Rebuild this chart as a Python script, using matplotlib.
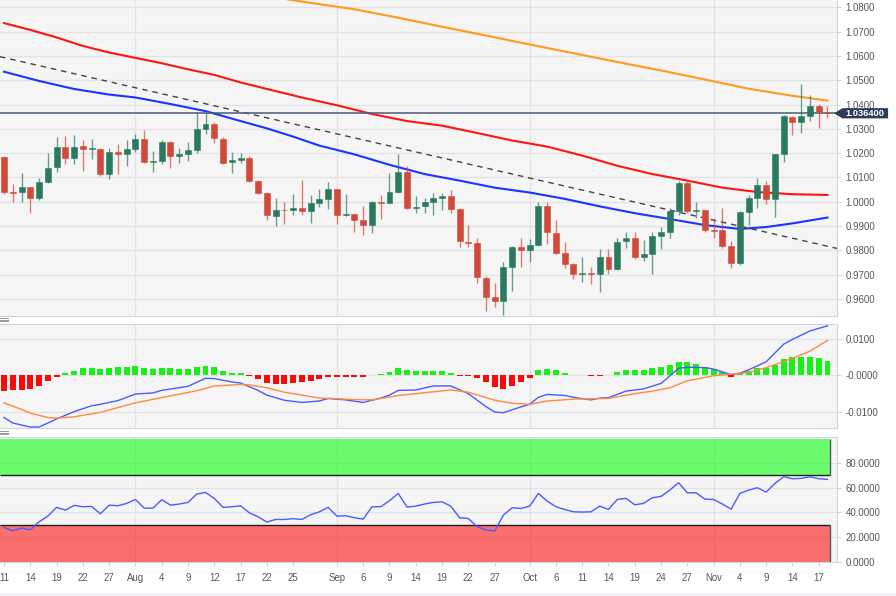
import numpy as np
import pandas as pd
import matplotlib
matplotlib.use("Agg")
import matplotlib.pyplot as plt
import matplotlib.transforms as mtransforms
from matplotlib.patches import Polygon
from matplotlib.lines import Line2D
from matplotlib.ticker import FormatStrFormatter

plt.rcParams['font.family'] = ['Liberation Sans', 'DejaVu Sans']
plt.rcParams['axes.unicode_minus'] = False

# EUR/USD daily candles, Jul 11 - Nov 18 2022
dates = pd.bdate_range('2022-07-11', '2022-11-18')

opens = [1.0186, 1.0039, 1.0039, 1.0062, 1.0017, 1.0080, 1.0142, 1.0224, 1.0179, 1.0228,
         1.0216, 1.0218, 1.0113, 1.0206, 1.0198, 1.0217, 1.0260, 1.0164, 1.0168, 1.0245,
         1.0188, 1.0198, 1.0213, 1.0299, 1.0318, 1.0260, 1.0162, 1.0172, 1.0179, 1.0087,
         1.0035, 0.9943, 0.9968, 0.9967, 0.9973, 0.9963, 0.9996, 1.0013, 1.0051, 0.9946,
         0.9951, 0.9925, 0.9903, 1.0000, 0.9996, 1.0042, 1.0122, 0.9973, 0.9982, 0.9999,
         1.0017, 1.0024, 0.9970, 0.9836, 0.9829, 0.9688, 0.9607, 0.9592, 0.9733, 0.9813,
         0.9802, 0.9822, 0.9984, 0.9873, 0.9788, 0.9743, 0.9702, 0.9707, 0.9702, 0.9771,
         0.9723, 0.9840, 0.9852, 0.9774, 0.9784, 0.9861, 0.9874, 0.9962, 1.0079, 0.9962,
         0.9965, 0.9885, 0.9884, 0.9817, 0.9747, 0.9959, 1.0017, 1.0069, 1.0010, 1.0197,
         1.0350, 1.0330, 1.0353, 1.0395, 1.0368]
highs = [1.0188, 1.0072, 1.0120, 1.0062, 1.0096, 1.0202, 1.0268, 1.0272, 1.0275, 1.0254,
         1.0258, 1.0220, 1.0220, 1.0236, 1.0254, 1.0277, 1.0295, 1.0209, 1.0254, 1.0250,
         1.0220, 1.0247, 1.0368, 1.0368, 1.0327, 1.0268, 1.0203, 1.0202, 1.0190, 1.0090,
         1.0042, 1.0017, 0.9998, 1.0032, 1.0090, 1.0028, 1.0054, 1.0080, 1.0051, 1.0032,
         0.9951, 0.9983, 1.0004, 1.0028, 1.0117, 1.0196, 1.0147, 1.0024, 1.0014, 1.0035,
         1.0035, 1.0049, 0.9973, 0.9904, 0.9850, 0.9695, 0.9667, 0.9751, 0.9818, 0.9852,
         0.9845, 0.9998, 0.9998, 0.9925, 0.9836, 0.9747, 0.9771, 0.9733, 0.9806, 0.9806,
         0.9850, 0.9877, 0.9877, 0.9843, 0.9877, 0.9898, 0.9976, 1.0087, 1.0094, 0.9998,
         0.9965, 0.9932, 0.9976, 0.9839, 0.9963, 1.0028, 1.0096, 1.0087, 1.0197, 1.0357,
         1.0354, 1.0484, 1.0439, 1.0401, 1.0395]
lows = [1.0030, 0.9998, 0.9998, 0.9953, 1.0007, 1.0076, 1.0121, 1.0154, 1.0154, 1.0127,
        1.0176, 1.0107, 1.0094, 1.0113, 1.0147, 1.0206, 1.0161, 1.0121, 1.0155, 1.0140,
        1.0158, 1.0169, 1.0202, 1.0277, 1.0240, 1.0154, 1.0120, 1.0158, 1.0080, 1.0031,
        0.9924, 0.9899, 0.9909, 0.9946, 0.9946, 0.9914, 0.9980, 0.9969, 0.9909, 0.9943,
        0.9877, 0.9863, 0.9873, 0.9928, 0.9994, 1.0035, 0.9969, 0.9955, 0.9955, 0.9946,
        0.9966, 0.9955, 0.9813, 0.9815, 0.9664, 0.9552, 0.9568, 0.9534, 0.9634, 0.9733,
        0.9753, 0.9818, 0.9826, 0.9785, 0.9726, 0.9682, 0.9669, 0.9663, 0.9630, 0.9704,
        0.9719, 0.9809, 0.9764, 0.9757, 0.9703, 0.9806, 0.9849, 0.9946, 0.9952, 0.9932,
        0.9874, 0.9852, 0.9808, 0.9729, 0.9740, 0.9904, 0.9976, 0.9991, 0.9939, 1.0162,
        1.0275, 1.0281, 1.0332, 1.0305, 1.0343]
closes = [1.0039, 1.0036, 1.0062, 1.0017, 1.0080, 1.0140, 1.0224, 1.0179, 1.0227, 1.0216,
          1.0221, 1.0113, 1.0206, 1.0198, 1.0217, 1.0260, 1.0165, 1.0168, 1.0245, 1.0188,
          1.0195, 1.0212, 1.0298, 1.0318, 1.0261, 1.0161, 1.0170, 1.0181, 1.0086, 1.0038,
          0.9944, 0.9968, 0.9965, 0.9973, 0.9963, 0.9996, 1.0013, 1.0051, 0.9946, 0.9951,
          0.9926, 0.9903, 1.0000, 0.9996, 1.0042, 1.0122, 0.9973, 0.9980, 0.9999, 1.0014,
          1.0024, 0.9970, 0.9839, 0.9829, 0.9692, 0.9610, 0.9593, 0.9733, 0.9813, 0.9802,
          0.9822, 0.9984, 0.9874, 0.9791, 0.9744, 0.9702, 0.9707, 0.9703, 0.9771, 0.9723,
          0.9836, 0.9852, 0.9771, 0.9784, 0.9861, 0.9874, 0.9962, 1.0079, 0.9962, 0.9965,
          0.9884, 0.9881, 0.9817, 0.9747, 0.9959, 1.0017, 1.0069, 1.0010, 1.0197, 1.0354,
          1.0330, 1.0353, 1.0395, 1.0368, 1.0364]
last_price = 1.0364

# moving averages, read at selected candles (index into dates)
sma50_idx = [0, 4, 8, 12, 15, 19, 23, 27, 30, 33, 36, 40, 44, 48, 52, 56, 60, 64, 68,
             72, 76, 80, 84, 87, 90, 94]
sma50 = [1.0535, 1.0497, 1.0464, 1.0441, 1.0429, 1.0402, 1.0373, 1.0332, 1.0302, 1.0268,
         1.0231, 1.0195, 1.0152, 1.0114, 1.0087, 1.0058, 1.0038, 1.0012, 0.9981,
         0.9953, 0.9929, 0.9904, 0.9888, 0.9896, 0.9911, 0.9935]
sma100_idx = [0, 3, 6, 9, 12, 15, 18, 21, 24, 27, 30, 34, 38, 42, 46, 50, 54, 58, 62,
              66, 70, 74, 78, 82, 86, 90, 94]
sma100 = [1.0735, 1.0707, 1.0676, 1.0641, 1.0614, 1.0592, 1.0570, 1.0545, 1.0522, 1.0491,
          1.0464, 1.0429, 1.0397, 1.0361, 1.0332, 1.0313, 1.0283, 1.0252, 1.0227,
          1.0190, 1.0148, 1.0114, 1.0087, 1.0058, 1.0040, 1.0031, 1.0028]
sma200_idx = [30, 35, 40, 45, 50, 55, 60, 65, 70, 75, 80, 85, 90, 94]
sma200 = [1.0846, 1.0818, 1.0792, 1.0757, 1.0720, 1.0684, 1.0647, 1.0611, 1.0575, 1.0540,
          1.0503, 1.0465, 1.0436, 1.0416]
trend_idx = [0, 94]
trend_val = [1.0593, 0.9817]

# MACD (line / signal read at selected candles, histogram per candle)
macd_idx = [0, 1, 3, 4, 5, 6, 8, 10, 11, 13, 15, 17, 18, 21, 23, 24, 26, 27, 29, 30,
            32, 34, 36, 37, 39, 41, 43, 44, 45, 47, 49, 51, 53, 55, 56, 57, 59, 60, 61, 62,
            64, 65, 67, 68, 69, 71, 73, 75, 77, 78, 80, 81, 83, 84, 85, 87, 89, 90, 92, 94]
macd_line = [-0.0115, -0.0130, -0.0141, -0.0141, -0.0130, -0.0119, -0.0099, -0.0083, -0.0079, -0.0069,
             -0.0051, -0.0048, -0.0041, -0.0030, -0.0008, -0.0009, -0.0018, -0.0021, -0.0041, -0.0054,
             -0.0068, -0.0074, -0.0070, -0.0063, -0.0067, -0.0074, -0.0062, -0.0054, -0.0041, -0.0040,
             -0.0029, -0.0029, -0.0050, -0.0085, -0.0100, -0.0102, -0.0086, -0.0079, -0.0060, -0.0052,
             -0.0055, -0.0060, -0.0067, -0.0062, -0.0061, -0.0043, -0.0037, -0.0022, 0.0019, 0.0022,
             0.0021, 0.0017, 0.0002, 0.0006, 0.0015, 0.0037, 0.0085, 0.0098, 0.0121, 0.0135]
signal_idx = [0, 2, 3, 5, 6, 8, 11, 15, 19, 22, 24, 27, 28, 30, 32, 36, 40, 42, 45, 49,
              51, 53, 56, 58, 60, 62, 65, 69, 72, 74, 76, 78, 81, 83, 85, 87, 90, 92, 94]
signal_line = [-0.0075, -0.0093, -0.0103, -0.0115, -0.0117, -0.0113, -0.0101, -0.0075, -0.0056, -0.0042,
               -0.0029, -0.0025, -0.0026, -0.0034, -0.0046, -0.0062, -0.0066, -0.0067, -0.0055, -0.0045,
               -0.0040, -0.0046, -0.0068, -0.0076, -0.0079, -0.0070, -0.0065, -0.0063, -0.0050, -0.0043,
               -0.0034, -0.0015, -0.0001, 0.0003, 0.0008, 0.0021, 0.0046, 0.0066, 0.0095]
macd_hist = [-0.0043, -0.0041, -0.0039, -0.0037, -0.0028, -0.0015, -0.0004, 0.0005, 0.0013, 0.0021,
             0.0019, 0.0016, 0.0021, 0.0022, 0.0024, 0.0025, 0.0021, 0.0016, 0.0019, 0.0019,
             0.0016, 0.0017, 0.0023, 0.0025, 0.0022, 0.0013, 0.0007, 0.0005, -0.0003, -0.0010,
             -0.0020, -0.0024, -0.0023, -0.0022, -0.0017, -0.0015, -0.0009, -0.0004, -0.0005, -0.0005,
             -0.0005, -0.0005, 0.0000, 0.0003, 0.0008, 0.0019, 0.0014, 0.0012, 0.0012, 0.0012,
             0.0012, 0.0007, -0.0002, -0.0001, -0.0007, -0.0019, -0.0031, -0.0036, -0.0029, -0.0017,
             -0.0008, 0.0014, 0.0017, 0.0014, 0.0007, 0.0002, 0.0002, -0.0002, -0.0001, 0.0001,
             0.0008, 0.0014, 0.0014, 0.0014, 0.0019, 0.0022, 0.0027, 0.0037, 0.0035, 0.0031,
             0.0024, 0.0017, 0.0008, -0.0005, 0.0005, 0.0012, 0.0019, 0.0019, 0.0028, 0.0044,
             0.0049, 0.0051, 0.0051, 0.0046, 0.0040]

# RSI per candle
rsi = [27.8, 25.1, 27.3, 25.9, 32.4, 37.0, 44.1, 41.9, 45.7, 44.6,
       44.9, 38.9, 45.9, 45.4, 47.3, 50.5, 43.5, 43.5, 50.3, 45.9,
       46.8, 48.1, 54.9, 56.2, 51.4, 44.1, 44.6, 45.4, 39.7, 36.5,
       32.2, 34.3, 34.3, 34.9, 34.3, 38.1, 40.5, 44.1, 37.0, 37.3,
       35.7, 34.6, 44.6, 44.6, 49.5, 55.4, 44.3, 45.1, 46.8, 48.1,
       48.6, 45.1, 35.7, 35.1, 28.4, 25.7, 24.9, 37.8, 43.8, 43.2,
       45.1, 55.4, 49.2, 44.6, 42.4, 40.5, 40.3, 40.5, 45.1, 42.4,
       50.5, 51.4, 46.2, 47.3, 51.9, 53.0, 58.1, 64.1, 55.9, 55.9,
       50.8, 50.5, 46.8, 42.7, 55.4, 58.1, 60.0, 56.5, 63.5, 68.9,
       67.3, 67.6, 68.9, 67.3, 66.8]

tick_dates = ['2022-07-11', '2022-07-14', '2022-07-19', '2022-07-22', '2022-07-27',
              '2022-08-01', '2022-08-04', '2022-08-09', '2022-08-12', '2022-08-17',
              '2022-08-22', '2022-08-25', '2022-09-01', '2022-09-06', '2022-09-09',
              '2022-09-14', '2022-09-19', '2022-09-22', '2022-09-27', '2022-10-03',
              '2022-10-06', '2022-10-11', '2022-10-14', '2022-10-19', '2022-10-24',
              '2022-10-27', '2022-11-01', '2022-11-04', '2022-11-09', '2022-11-14',
              '2022-11-17']
tick_labels = ['11', '14', '19', '22', '27', 'Aug', '4', '9', '12', '17', '22', '25',
               'Sep', '6', '9', '14', '19', '22', '27', 'Oct', '6', '11', '14', '19',
               '24', '27', 'Nov', '4', '9', '14', '17']
month_starts = ['2022-08-01', '2022-09-01', '2022-10-03', '2022-11-01']

GREEN = '#2b7a60'
RED = '#cf4a3b'
BG = '#f5f5f5'
GRID = '#e3e3e3'
SPINE = '#cfd4dd'
TXT = '#555555'

x = np.arange(len(dates))
o = np.array(opens); h = np.array(highs); l = np.array(lows); c = np.array(closes)
tick_pos = dates.get_indexer(pd.to_datetime(tick_dates))
month_pos = dates.get_indexer(pd.to_datetime(month_starts))
xlim = (-0.46, 95.09)

fig = plt.figure(figsize=(8.96, 5.96), dpi=100)
ax1 = fig.add_axes([0, 0.4698, 0.9342, 0.5302])
ax2 = fig.add_axes([0, 0.2819, 0.9342, 0.1737])
ax3 = fig.add_axes([0, 0.0570, 0.9342, 0.2097])

for ax in (ax1, ax2, ax3):
    ax.set_facecolor(BG)
    ax.set_xlim(*xlim)
    ax.yaxis.tick_right()
    ax.tick_params(axis='y', length=3, pad=3, labelsize=6.9, colors=SPINE, labelcolor=TXT)
    ax.tick_params(axis='x', bottom=False, labelbottom=False)
    ax.grid(axis='y', color=GRID, lw=1)
    ax.set_axisbelow(True)
    for m in month_pos:
        ax.axvline(m, color=GRID, lw=1, zorder=0)
    ax.spines['left'].set_visible(False)
    for s in ('top', 'right', 'bottom'):
        ax.spines[s].set_color(SPINE)
ax1.spines['top'].set_visible(False)

# ---- price panel
ax1.set_ylim(0.9530, 1.0830)
ax1.set_yticks(np.arange(0.96, 1.0801, 0.01))
ax1.yaxis.set_major_formatter(FormatStrFormatter('%.4f'))

ax1.plot(sma200_idx, sma200, color='#ff9a1c', lw=1.5, zorder=2)
ax1.plot(sma100_idx, sma100, color='#ff1414', lw=1.5, zorder=2)
ax1.plot(sma50_idx, sma50, color='#1a35ff', lw=1.5, zorder=2)
ax1.axline((trend_idx[0], trend_val[0]), (trend_idx[1], trend_val[1]),
           color='#444444', lw=1, ls=(0, (4, 3.5)), zorder=2)
ax1.axhline(last_price, color='#4a5a78', lw=1.1, zorder=2)

cols = np.where(c >= o, GREEN, RED)
ax1.vlines(x, l, h, colors=cols, lw=1, alpha=0.7, zorder=3)
body_h = np.maximum(np.abs(c - o), 0.00012)
ax1.bar(x, body_h, bottom=np.minimum(o, c), width=0.68, color=cols,
        edgecolor=cols, lw=0.4, zorder=4)

# price label on the axis
tr = mtransforms.blended_transform_factory(ax1.transAxes, ax1.transData)
hh = 0.0021
box = Polygon([(0.9964, last_price), (1.0065, last_price + hh), (1.061, last_price + hh),
               (1.061, last_price - hh), (1.0065, last_price - hh)],
              closed=True, transform=tr, clip_on=False, facecolor='#2c3d5b',
              edgecolor='none', zorder=10)
ax1.add_patch(box)
ax1.text(1.0335, last_price - 0.0001, f'{last_price:.6f}', transform=tr, color='white',
         fontsize=6.7, fontweight='bold', ha='center', va='center', zorder=11,
         clip_on=False)

# ---- MACD panel
ax2.set_ylim(-0.01436, 0.01387)
ax2.set_yticks([0.01, 0.0, -0.01])
ax2.set_yticklabels(['0.0100', '-0.0000', '-0.0100'])
hist = np.array(macd_hist)
ax2.bar(x, hist, width=0.68, color=np.where(hist >= 0, '#18f018', '#fa0a0a'), zorder=2)
ax2.plot(macd_idx, macd_line, color='#4b5bff', lw=1, zorder=3)
ax2.plot(signal_idx, signal_line, color='#ff8a40', lw=1, zorder=3)

# ---- RSI panel
ax3.set_ylim(-0.2, 101.1)
ax3.set_yticks([0, 20, 40, 60, 80])
ax3.yaxis.set_major_formatter(FormatStrFormatter('%.4f'))
band_x = [xlim[0], 94.25]
ax3.fill_between(band_x, 70, 99.6, color='#00ff00', alpha=0.55, lw=0, zorder=1)
ax3.fill_between(band_x, 0, 30, color='#ff0000', alpha=0.55, lw=0, zorder=1)
ax3.hlines([70, 30], band_x[0], band_x[1], color='#222222', lw=1, zorder=2)
ax3.vlines(band_x[1], 70, 99.6, color='#555555', lw=1, zorder=2)
ax3.vlines(band_x[1], 0, 30, color='#555555', lw=1, zorder=2)
ax3.plot(x, rsi, color='#4b5bff', lw=1, zorder=3)

ax3.set_xticks(tick_pos)
ax3.set_xticklabels(tick_labels)
ax3.tick_params(axis='x', bottom=True, labelbottom=True, length=3, pad=5,
                labelsize=6.9, colors=SPINE, labelcolor=TXT)

# panel handles and bottom rule
for yy in (0.4635, 0.2740):
    for dy in (-0.0022, 0.0, 0.0022):
        fig.add_artist(Line2D([0.0, 0.009], [yy + dy, yy + dy], transform=fig.transFigure,
                              color='#9a9a9a', lw=0.7))
fig.add_artist(Line2D([0, 1], [0.004, 0.004], transform=fig.transFigure,
                      color='#e2e5ea', lw=1))

fig.savefig('out.png', dpi=100, facecolor='white')
